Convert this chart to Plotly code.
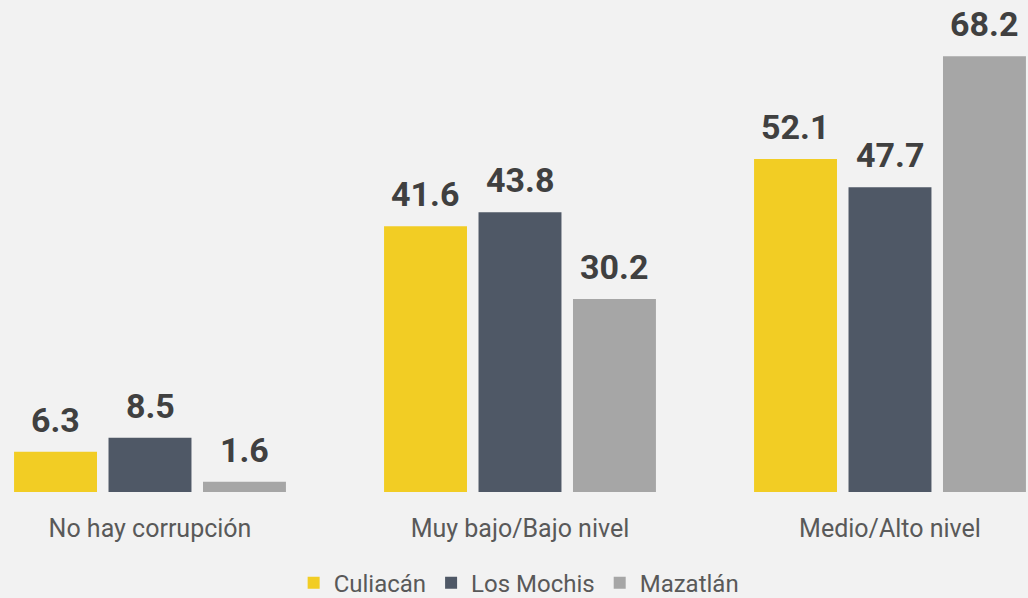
import plotly.graph_objects as go

categories = ["No hay corrupción", "Muy bajo/Bajo nivel", "Medio/Alto nivel"]
culiacan = [6.3, 41.6, 52.1]
los_mochis = [8.5, 43.8, 47.7]
mazatlan = [1.6, 30.2, 68.2]

series = [
    ("Culiacán", culiacan, "#F2CD24"),
    ("Los Mochis", los_mochis, "#4F5866"),
    ("Mazatlán", mazatlan, "#A6A6A6"),
]

SLOT_PX = 94.5  # horizontal distance between bars in a group

fig = go.Figure()
for i, (name, vals, color) in enumerate(series):
    fig.add_trace(go.Bar(
        x=categories, y=vals, name=name,
        marker=dict(color=color, line=dict(width=0)),
        hoverinfo="skip",
    ))
    for cat, v in zip(categories, vals):
        fig.add_annotation(
            x=cat, y=v, text=f"{v:.1f}", showarrow=False,
            xanchor="center", yanchor="bottom",
            xshift=(i - 1) * SLOT_PX, yshift=10,
            font=dict(family="Roboto", size=34, color="#404040", weight="bold"),
        )

fig.update_layout(
    width=1028, height=598,
    margin=dict(l=0, r=0, t=0, b=106),
    paper_bgcolor="#F2F2F2", plot_bgcolor="#F2F2F2",
    barmode="group", bargap=0.234, bargroupgap=0.122,
    font=dict(family="Roboto", color="#595959", size=24),
    showlegend=True,
    legend=dict(orientation="h", x=0.505, xanchor="center",
                yref="container", y=0.025, yanchor="middle",
                font=dict(size=24, color="#595959"), traceorder="normal"),
    xaxis=dict(range=[-0.4054, 2.373], showgrid=False, zeroline=False, showline=False,
               ticks="outside", ticklen=14, tickcolor="rgba(0,0,0,0)",
               tickfont=dict(size=25, color="#595959"), automargin=False),
    yaxis=dict(range=[0, 77], visible=False),
)

fig.write_html("out.html", config={"displayModeBar": False},
               post_script="document.body.style.margin='0';document.body.style.background='#F2F2F2';")
